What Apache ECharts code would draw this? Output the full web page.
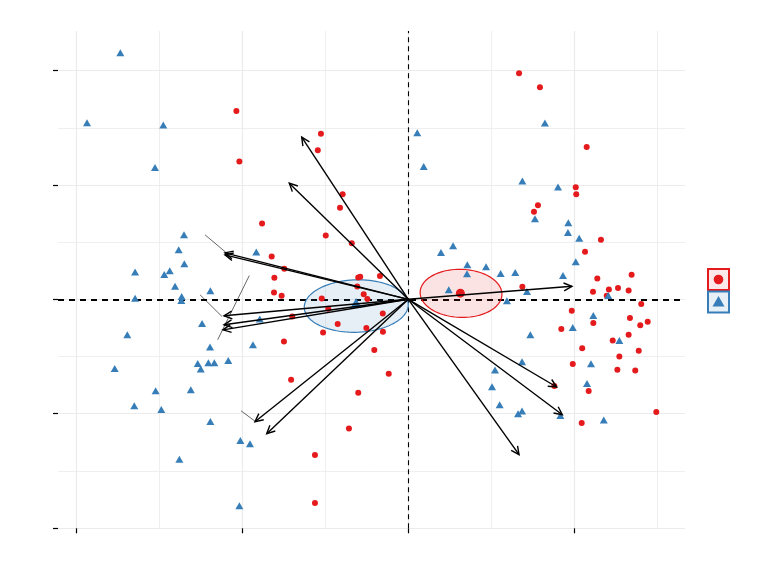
<!DOCTYPE html>
<html>
<head>
<meta charset="utf-8">
<script src="https://cdn.jsdelivr.net/npm/echarts@6/dist/echarts.min.js"></script>
<style>
  html, body { margin: 0; padding: 0; background: #fff; }
  #chart { width: 768px; height: 576px; }
</style>
</head>
<body>
<div id="chart"></div>
<script>
// group 1 (red circles)
var redX = [-1.037, -1.019, -0.527, -0.546, -0.396, -0.412, -0.882, -0.498, -0.341, -0.824,
  -0.171, -0.302, -0.290, -0.808, -0.748, -0.810, -0.764, -0.308, -0.269, -0.522,
  -0.247, -0.483, -0.154, -0.700, -0.426, -0.253, -0.153, -0.514, -0.750, -0.205,
  -0.118, -0.707, -0.302, -0.358, -0.563, -0.563,
  0.668, 0.794, 1.076, 1.010, 1.013, 0.782, 0.758, 1.162, 1.066, 0.688,
  1.140, 1.347, 1.114, 1.210, 1.265, 1.329, 1.197, 1.405, 0.986, 1.116,
  0.923, 1.337, 1.399, 1.444, 1.329, 1.233, 1.049, 1.390, 1.273, 0.992,
  1.261, 1.369, 0.881, 1.088, 1.496, 1.046];
var redY = [1.648, 1.205, 1.449, 1.304, 0.920, 0.802, 0.663, 0.558, 0.491, 0.374,
  0.205, 0.191, 0.197, 0.188, 0.267, 0.059, 0.031, 0.112, 0.045, 0.007,
  0.002, -0.083, -0.124, -0.150, -0.217, -0.252, -0.284, -0.290, -0.369, -0.444,
  -0.651, -0.704, -0.817, -1.129, -1.362, -1.781,
  1.977, 1.855, 1.333, 0.981, 0.920, 0.823, 0.767, 0.520, 0.415, 0.109,
  0.182, 0.214, 0.066, 0.086, 0.098, 0.077, 0.031, -0.042, -0.101, -0.208,
  -0.260, -0.164, -0.226, -0.197, -0.310, -0.360, -0.427, -0.450, -0.500, -0.566,
  -0.616, -0.622, -0.759, -0.802, -0.986, -1.082];

// group 2 (blue triangles)
var blueX = [-1.737, -1.938, -1.478, -1.528, -1.353, -1.385, -1.351, -1.648, -1.472, -1.439,
  -1.407, -1.367, -1.369, -1.648, -1.194, -0.917, -1.244, -1.695, -0.896, -1.196,
  -0.937, -1.771, -1.270, -1.252, -1.206, -1.170, -1.086, -1.524, -1.312, -1.653,
  -1.490, -1.194, -1.013, -0.955, -1.381, -1.019,
  0.054, 0.093, 0.824, 0.688, 0.903, 0.764, 0.965, 0.963, 1.031, 1.010,
  0.197, 0.270, 0.356, 0.354, 0.469, 0.557, 0.645, 0.933, 0.244, 0.716,
  1.206, 0.595, 1.116, 0.992, 0.736, 1.273, 0.686, 0.523, 1.102, 0.505,
  1.078, 0.551, 0.662, 0.686, 0.917, 1.179];
var blueY = [2.157, 1.545, 1.525, 1.152, 0.564, 0.433, 0.310, 0.240, 0.217, 0.249,
  0.115, 0.024, -0.010, 0.010, 0.074, 0.413, -0.212, -0.310, -0.173, -0.418,
  -0.398, -0.605, -0.561, -0.610, -0.555, -0.555, -0.535, -0.800, -0.791, -0.931,
  -0.963, -1.068, -1.234, -1.263, -1.400, -1.805,
  1.458, 1.161, 1.543, 1.036, 0.983, 0.704, 0.669, 0.584, 0.535, 0.328,
  0.409, 0.468, 0.302, 0.223, 0.284, 0.226, 0.234, 0.208, 0.083, 0.068,
  0.033, -0.013, -0.142, -0.247, -0.310, -0.360, -0.546, -0.619, -0.564, -0.765,
  -0.736, -0.922, -1.001, -0.977, -1.016, -1.056];

// group means
var redMean = [0.314, 0.054];
var blueMean = [-0.315, -0.033];

// confidence ellipses: [cx, cy, a, b, angleDeg]
var redEllipse = [0.318, 0.052, 0.247, 0.210, -6];
var blueEllipse = [-0.314, -0.059, 0.314, 0.229, 4];

// variable arrows (tips)
var arrowX = [-0.643, -0.718, -1.106, -1.106, -1.112, -1.112, -1.118, -0.925, -0.854, 0.987, 0.895, 0.929, 0.668];
var arrowY = [1.418, 1.016, 0.389, 0.406, -0.144, -0.223, -0.267, -1.071, -1.176, 0.114, -0.767, -1.010, -1.359];

// label leader segments [x1, y1, x2, y2]
var segX1 = [-1.226, -0.959, -1.256, -1.009];
var segY1 = [0.564, 0.208, 0.039, -0.975];
var segX2 = [-1.095, -1.150, -1.124, -0.925];
var segY2 = [0.404, -0.354, -0.150, -1.066];

// axis breaks
var majorX = [-2, -1, 0, 1];
var minorX = [-1.5, -0.5, 0.5, 1.5];
var majorY = [-2, -1, 0, 1, 2];
var minorY = [-1.5, -0.5, 0.5, 1.5];

var RED = '#E41A1C';
var BLUE = '#377EB8';

function zip(a, b) {
  return a.map(function (v, i) { return [v, b[i]]; });
}

function gridLines(xs, ys, width) {
  var d = [];
  xs.forEach(function (v) { d.push({ xAxis: v }); });
  ys.forEach(function (v) { d.push({ yAxis: v }); });
  return {
    type: 'scatter',
    data: [],
    z: 0,
    silent: true,
    markLine: {
      z: 0,
      silent: true,
      symbol: ['none', 'none'],
      label: { show: false },
      animation: false,
      lineStyle: { color: '#ebebeb', width: width, type: 'solid' },
      emphasis: { disabled: true },
      data: d
    }
  };
}

function ellipseItem(color, fill) {
  return function (params, api) {
    var cx = api.value(0), cy = api.value(1), a = api.value(2), b = api.value(3);
    var th = api.value(4) * Math.PI / 180;
    var pts = [];
    for (var i = 0; i <= 100; i++) {
      var t = i / 100 * Math.PI * 2;
      var x = cx + a * Math.cos(th) * Math.cos(t) - b * Math.sin(th) * Math.sin(t);
      var y = cy + a * Math.sin(th) * Math.cos(t) + b * Math.cos(th) * Math.sin(t);
      pts.push(api.coord([x, y]));
    }
    return {
      type: 'polygon',
      shape: { points: pts },
      style: { fill: fill, stroke: color, lineWidth: 1.2 }
    };
  };
}

function arrowItem(params, api) {
  var p0 = api.coord([0, 0]);
  var p1 = api.coord([api.value(0), api.value(1)]);
  var ang = Math.atan2(p1[1] - p0[1], p1[0] - p0[0]);
  var len = 9, spread = 0.45;
  var h1 = [p1[0] - len * Math.cos(ang - spread), p1[1] - len * Math.sin(ang - spread)];
  var h2 = [p1[0] - len * Math.cos(ang + spread), p1[1] - len * Math.sin(ang + spread)];
  return {
    type: 'group',
    children: [
      { type: 'line', shape: { x1: p0[0], y1: p0[1], x2: p1[0], y2: p1[1] },
        style: { stroke: '#000', lineWidth: 1.4 } },
      { type: 'polyline', shape: { points: [h1, p1, h2] },
        style: { stroke: '#000', fill: null, lineWidth: 1.4 } }
    ]
  };
}

function segmentItem(params, api) {
  var p0 = api.coord([api.value(0), api.value(1)]);
  var p1 = api.coord([api.value(2), api.value(3)]);
  return { type: 'line', shape: { x1: p0[0], y1: p0[1], x2: p1[0], y2: p1[1] },
    style: { stroke: '#000', lineWidth: 0.6 } };
}

var chart = echarts.init(document.getElementById('chart'));

var option = {
  animation: false,
  backgroundColor: '#fff',
  grid: { left: 58, right: 83, top: 31, bottom: 47.7 },
  xAxis: {
    type: 'value',
    min: -2.113, max: 1.669,
    axisLine: { show: false, onZero: false },
    axisLabel: { show: false, customValues: majorX },
    axisTick: { show: true, length: 5, customValues: majorX, lineStyle: { color: '#000', width: 1.2 } },
    splitLine: { show: false }
  },
  yAxis: {
    type: 'value',
    min: -2.003, max: 2.347,
    axisLine: { show: false, onZero: false },
    axisLabel: { show: false, customValues: majorY },
    axisTick: { show: true, length: 5, customValues: majorY, lineStyle: { color: '#000', width: 1.2 } },
    splitLine: { show: false }
  },
  series: [
    gridLines(minorX, minorY, 0.8),
    gridLines(majorX, majorY, 1.2),
    {
      type: 'scatter',
      data: [],
      z: 1,
      silent: true,
      markLine: {
        z: 1,
        silent: true,
        symbol: ['none', 'none'],
        label: { show: false },
        animation: false,
        data: [
          { xAxis: 0, lineStyle: { color: '#000', width: 1.1, type: [5, 4] } },
          { yAxis: 0, lineStyle: { color: '#000', width: 1.8, type: [6, 5] } }
        ]
      }
    },
    {
      type: 'custom',
      z: 2,
      silent: true,
      renderItem: ellipseItem(BLUE, 'rgba(55,126,184,0.12)'),
      data: [blueEllipse]
    },
    {
      type: 'custom',
      z: 2,
      silent: true,
      renderItem: ellipseItem(RED, 'rgba(228,26,28,0.12)'),
      data: [redEllipse]
    },
    {
      name: 'red',
      type: 'scatter',
      z: 3,
      symbol: 'circle',
      symbolSize: 6,
      itemStyle: { color: RED, opacity: 1 },
      data: zip(redX, redY)
    },
    {
      name: 'blue',
      type: 'scatter',
      z: 3,
      symbol: 'triangle',
      symbolSize: [8, 7],
      itemStyle: { color: BLUE, opacity: 1 },
      data: zip(blueX, blueY)
    },
    {
      type: 'scatter',
      z: 4,
      symbol: 'circle',
      symbolSize: 9,
      itemStyle: { color: RED, opacity: 1 },
      data: [redMean]
    },
    {
      type: 'scatter',
      z: 4,
      symbol: 'triangle',
      symbolSize: [11, 10],
      itemStyle: { color: BLUE, opacity: 1 },
      data: [blueMean]
    },
    {
      type: 'custom',
      z: 5,
      silent: true,
      renderItem: arrowItem,
      data: zip(arrowX, arrowY)
    },
    {
      type: 'custom',
      z: 5,
      silent: true,
      renderItem: segmentItem,
      encode: { x: [0, 2], y: [1, 3] },
      data: segX1.map(function (v, i) { return [v, segY1[i], segX2[i], segY2[i]]; })
    }
  ],
  graphic: [
    { type: 'rect', shape: { x: 708, y: 269, width: 21, height: 21 },
      style: { fill: '#fce8e8', stroke: RED, lineWidth: 2 } },
    { type: 'circle', shape: { cx: 718.5, cy: 279.5, r: 4.8 }, style: { fill: RED } },
    { type: 'rect', shape: { x: 708, y: 291.5, width: 21, height: 21 },
      style: { fill: '#e7eff7', stroke: BLUE, lineWidth: 2 } },
    { type: 'polygon', shape: { points: [[718.5, 296], [724.5, 306.5], [712.5, 306.5]] },
      style: { fill: BLUE } }
  ]
};

chart.setOption(option);
</script>
</body>
</html>
